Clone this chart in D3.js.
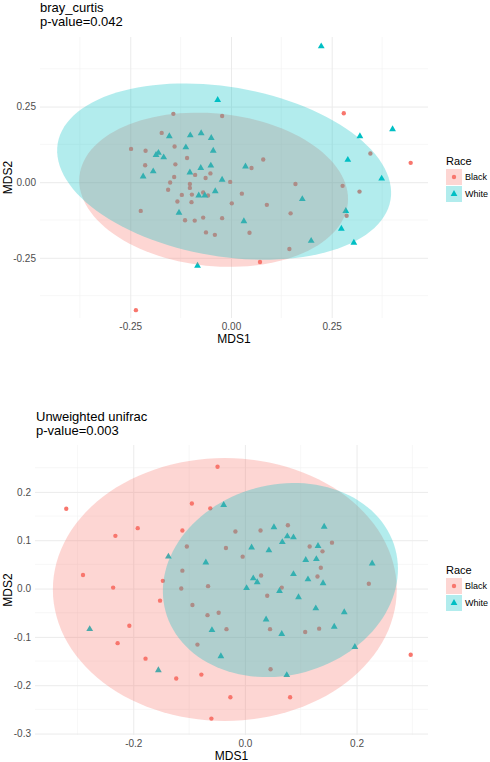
<!DOCTYPE html>
<html><head><meta charset="utf-8">
<script src="https://cdn.jsdelivr.net/npm/d3@7"></script>
<style>body{margin:0;background:#fff}svg text{font-family:"Liberation Sans",Arial,sans-serif}</style>
</head><body><svg id="c" width="490" height="762"></svg>
<script>
// ---------- shared ----------
const races = ["Black", "White"];
const raceColors = ["#F8766D", "#00BFC4"];
const legendTitle = "Race";

// ---------- chart 1: bray_curtis ----------
const bcTitle = ["bray_curtis", "p-value=0.042"];
const bcXTicks = [-0.25, 0, 0.25];
const bcXTickLabels = ["-0.25", "0.00", "0.25"];
const bcYTicks = [-0.25, 0, 0.25];
const bcYTickLabels = ["-0.25", "0.00", "0.25"];
const bcXMinor = [-0.375, -0.125, 0.125, 0.375];
const bcYMinor = [-0.375, -0.125, 0.125, 0.375];
const bcBlack = [
  [-0.143,0.226],[-0.022,0.219],[-0.172,0.163],[-0.140,0.118],[-0.248,0.110],[-0.212,0.104],
  [-0.109,0.080],[-0.213,0.056],[-0.138,0.059],[-0.089,0.024],[-0.051,0.029],[-0.141,0.017],
  [-0.063,0.014],[-0.151,-0.001],[-0.102,-0.006],[-0.102,-0.019],[-0.156,-0.025],[-0.069,-0.034],
  [-0.122,-0.042],[-0.097,-0.041],[-0.057,-0.044],[-0.133,-0.064],[-0.098,-0.066],[-0.224,-0.095],
  [-0.114,-0.126],[-0.090,-0.127],[-0.069,-0.117],[-0.022,-0.119],[-0.062,-0.166],[-0.040,-0.174],
  [-0.002,0.001],[0.280,0.228],[0.080,0.075],[0.051,0.047],[0.160,-0.006],[0.277,-0.012],
  [0.319,-0.031],[0.027,-0.038],[0.002,-0.070],[0.089,-0.075],[0.148,-0.103],[0.287,-0.111],
  [0.046,-0.167],[0.145,-0.221],[0.072,-0.264],[0.346,0.095],[0.446,0.064],[-0.236,-0.423]
];
const bcWhite = [
  [-0.033,0.272],[-0.153,0.152],[-0.101,0.155],[-0.074,0.162],[-0.049,0.146],[-0.112,0.115],
  [-0.044,0.104],[-0.180,0.097],[-0.186,0.090],[-0.167,0.082],[-0.193,0.036],[-0.218,0.019],
  [-0.102,0.032],[-0.075,0.047],[-0.050,0.055],[-0.022,0.008],[-0.039,-0.030],[-0.080,-0.044],
  [-0.065,-0.044],[-0.129,-0.101],[-0.083,-0.276],[0.224,0.449],[0.320,0.152],[0.401,0.175],
  [0.290,0.074],[0.036,0.052],[0.374,0.012],[0.177,-0.056],[0.285,-0.095],[0.274,-0.154],
  [0.199,-0.194],[0.305,-0.200],[0.032,-0.129]
];
// ellipse: centre and two conjugate semi-axis vectors (data units)
const bcEllipseBlack = [-0.043, -0.025, 0.333, -0.045, -0.019, -0.251];
const bcEllipseWhite = [-0.017, 0.035, 0.413, -0.0934, -0.035, -0.276];

// ---------- chart 2: Unweighted unifrac ----------
const uuTitle = ["Unweighted unifrac", "p-value=0.003"];
const uuXTicks = [-0.2, 0, 0.2];
const uuXTickLabels = ["-0.2", "0.0", "0.2"];
const uuYTicks = [0.2, 0.1, 0, -0.1, -0.2, -0.3];
const uuYTickLabels = ["0.2", "0.1", "0.0", "-0.1", "-0.2", "-0.3"];
const uuXMinor = [-0.3, -0.1, 0.1, 0.3];
const uuYMinor = [0.25, 0.15, 0.05, -0.05, -0.15, -0.25];
const uuBlack = [
  [-0.049,0.252],[-0.320,0.165],[-0.095,0.176],[-0.062,0.166],[-0.232,0.109],[-0.192,0.125],
  [-0.112,0.120],[-0.104,0.087],[-0.034,0.084],[-0.017,0.118],[0.028,0.120],[-0.004,0.066],
  [-0.112,0.037],[-0.147,0.016],[-0.114,0.000],[-0.066,0.005],[0.029,0.027],[0.040,-0.015],
  [-0.152,-0.025],[-0.094,-0.034],[-0.067,-0.055],[-0.047,-0.050],[0.045,-0.084],[-0.033,-0.084],
  [-0.085,-0.116],[-0.078,-0.178],[-0.123,-0.186],[0.046,-0.167],[-0.290,0.028],[-0.236,0.002],
  [-0.207,-0.077],[-0.228,-0.113],[-0.178,-0.145],[-0.026,-0.225],[-0.060,-0.269],[0.077,0.131],
  [0.156,0.095],[0.116,0.087],[0.139,0.077],[0.136,0.043],[0.130,0.025],[0.222,0.010],
  [0.066,0.002],[0.108,-0.090],[0.133,-0.083],[0.297,-0.137],[0.081,-0.225]
];
const uuWhite = [
  [-0.038,0.173],[0.052,0.127],[0.012,0.085],[0.043,0.079],[-0.137,0.066],[-0.070,0.054],
  [0.015,0.021],[0.022,0.013],[0.003,0.001],[0.062,-0.005],[0.038,-0.064],[-0.059,-0.086],
  [-0.043,-0.140],[-0.155,-0.169],[-0.278,-0.084],[0.142,0.128],[0.076,0.108],[0.087,0.106],
  [0.067,0.096],[0.131,0.088],[0.109,0.059],[0.128,0.061],[0.228,0.052],[0.087,0.030],
  [0.113,0.019],[0.140,0.011],[0.096,-0.018],[0.127,-0.041],[0.178,-0.049],[0.160,-0.079],
  [0.066,-0.094],[0.197,-0.121],[0.075,-0.179]
];
const uuEllipseBlack = [-0.036, -0.002, 0.308, 0, 0, 0.272];
const uuEllipseWhite = [0.0636, 0.0176, 0.2057, 0.065, 0.045, -0.190];

// ---------- drawing ----------
const svg = d3.select("#c");

function drawChart(cfg) {
  const L = cfg.layout;
  const x = d3.scaleLinear().domain(L.xDomain).range([L.left, L.right]);
  const y = d3.scaleLinear().domain(L.yDomain).range([L.bottom, L.top]);
  const g = svg.append("g");

  // minor grid
  g.append("g").selectAll("line").data(cfg.xMinor).join("line")
    .attr("x1", d => x(d)).attr("x2", d => x(d)).attr("y1", L.top).attr("y2", L.bottom)
    .attr("stroke", "#F2F2F2").attr("stroke-width", 0.6);
  g.append("g").selectAll("line").data(cfg.yMinor).join("line")
    .attr("y1", d => y(d)).attr("y2", d => y(d)).attr("x1", L.left).attr("x2", L.right)
    .attr("stroke", "#F2F2F2").attr("stroke-width", 0.6);

  // major grid + tick labels via axes
  const xa = g.append("g").attr("transform", `translate(0,${L.bottom})`)
    .call(d3.axisBottom(x).tickValues(cfg.xTicks).tickSize(-(L.bottom - L.top)).tickPadding(5)
      .tickFormat((d, i) => cfg.xTickLabels[i]));
  const ya = g.append("g").attr("transform", `translate(${L.left},0)`)
    .call(d3.axisLeft(y).tickValues(cfg.yTicks).tickSize(-(L.right - L.left)).tickPadding(4)
      .tickFormat((d, i) => cfg.yTickLabels[i]));
  [xa, ya].forEach(a => {
    a.select(".domain").remove();
    a.selectAll(".tick line").attr("stroke", "#EBEBEB").attr("stroke-width", 1);
    a.selectAll(".tick text").attr("fill", "#4D4D4D").attr("font-size", 10)
      .attr("font-family", '"Liberation Sans",Arial,sans-serif');
  });

  // points (drawn under the ellipses)
  const sets = [cfg.black, cfg.white];
  sets.forEach((pts, k) => {
    const sym = d3.symbol().type(k === 0 ? d3.symbolCircle : d3.symbolTriangle).size(k === 0 ? 15 : 20);
    g.append("g").selectAll("path").data(pts).join("path")
      .attr("transform", d => `translate(${x(d[0])},${y(d[1])})`)
      .attr("d", sym).attr("fill", raceColors[k]);
  });

  // ellipses
  const line = d3.line().x(d => x(d[0])).y(d => y(d[1])).curve(d3.curveLinearClosed);
  [cfg.eBlack, cfg.eWhite].forEach((e, k) => {
    const pts = d3.range(120).map(i => {
      const t = 2 * Math.PI * i / 120;
      return [e[0] + e[2] * Math.cos(t) + e[4] * Math.sin(t), e[1] + e[3] * Math.cos(t) + e[5] * Math.sin(t)];
    });
    g.append("path").attr("d", line(pts)).attr("fill", raceColors[k]).attr("fill-opacity", 0.3);
  });

  // titles
  g.append("text").attr("x", L.titleX).attr("y", L.titleY).attr("font-size", 13).attr("fill", "#000")
    .text(cfg.title[0]);
  g.append("text").attr("x", L.titleX).attr("y", L.titleY + 14).attr("font-size", 13).attr("fill", "#000")
    .text(cfg.title[1]);
  g.append("text").attr("x", (L.left + L.right) / 2).attr("y", L.bottom + 25).attr("text-anchor", "middle")
    .attr("font-size", 12).text("MDS1");
  g.append("text").attr("transform", `translate(${12},${(L.top + L.bottom) / 2}) rotate(-90)`)
    .attr("text-anchor", "middle").attr("font-size", 12).text("MDS2");

  // legend
  const lg = g.append("g").attr("transform", `translate(446,${L.legendY})`);
  lg.append("text").attr("x", 0).attr("y", 0).attr("font-size", 11).text(legendTitle);
  races.forEach((r, k) => {
    const ky = 4 + k * 17;
    lg.append("rect").attr("x", 0).attr("y", ky).attr("width", 16).attr("height", 16)
      .attr("fill", raceColors[k]).attr("fill-opacity", 0.3);
    lg.append("path").attr("transform", `translate(8,${ky + 8})`)
      .attr("d", d3.symbol().type(k === 0 ? d3.symbolCircle : d3.symbolTriangle).size(k === 0 ? 15 : 20))
      .attr("fill", raceColors[k]);
    lg.append("text").attr("x", 19).attr("y", ky + 11).attr("font-size", 9).text(r);
  });
}

drawChart({
  title: bcTitle, xTicks: bcXTicks, xTickLabels: bcXTickLabels, yTicks: bcYTicks, yTickLabels: bcYTickLabels,
  xMinor: bcXMinor, yMinor: bcYMinor, black: bcBlack, white: bcWhite,
  eBlack: bcEllipseBlack, eWhite: bcEllipseWhite,
  layout: { left: 40, right: 428, top: 37, bottom: 318, xDomain: [-0.474, 0.489], yDomain: [-0.449, 0.480],
            titleX: 40, titleY: 12, legendY: 165 }
});
drawChart({
  title: uuTitle, xTicks: uuXTicks, xTickLabels: uuXTickLabels, yTicks: uuYTicks, yTickLabels: uuYTickLabels,
  xMinor: uuXMinor, yMinor: uuYMinor, black: uuBlack, white: uuWhite,
  eBlack: uuEllipseBlack, eWhite: uuEllipseWhite,
  layout: { left: 35, right: 428, top: 445, bottom: 735, xDomain: [-0.376, 0.328], yDomain: [-0.303, 0.297],
            titleX: 36, titleY: 421, legendY: 574 }
});
</script></body></html>
